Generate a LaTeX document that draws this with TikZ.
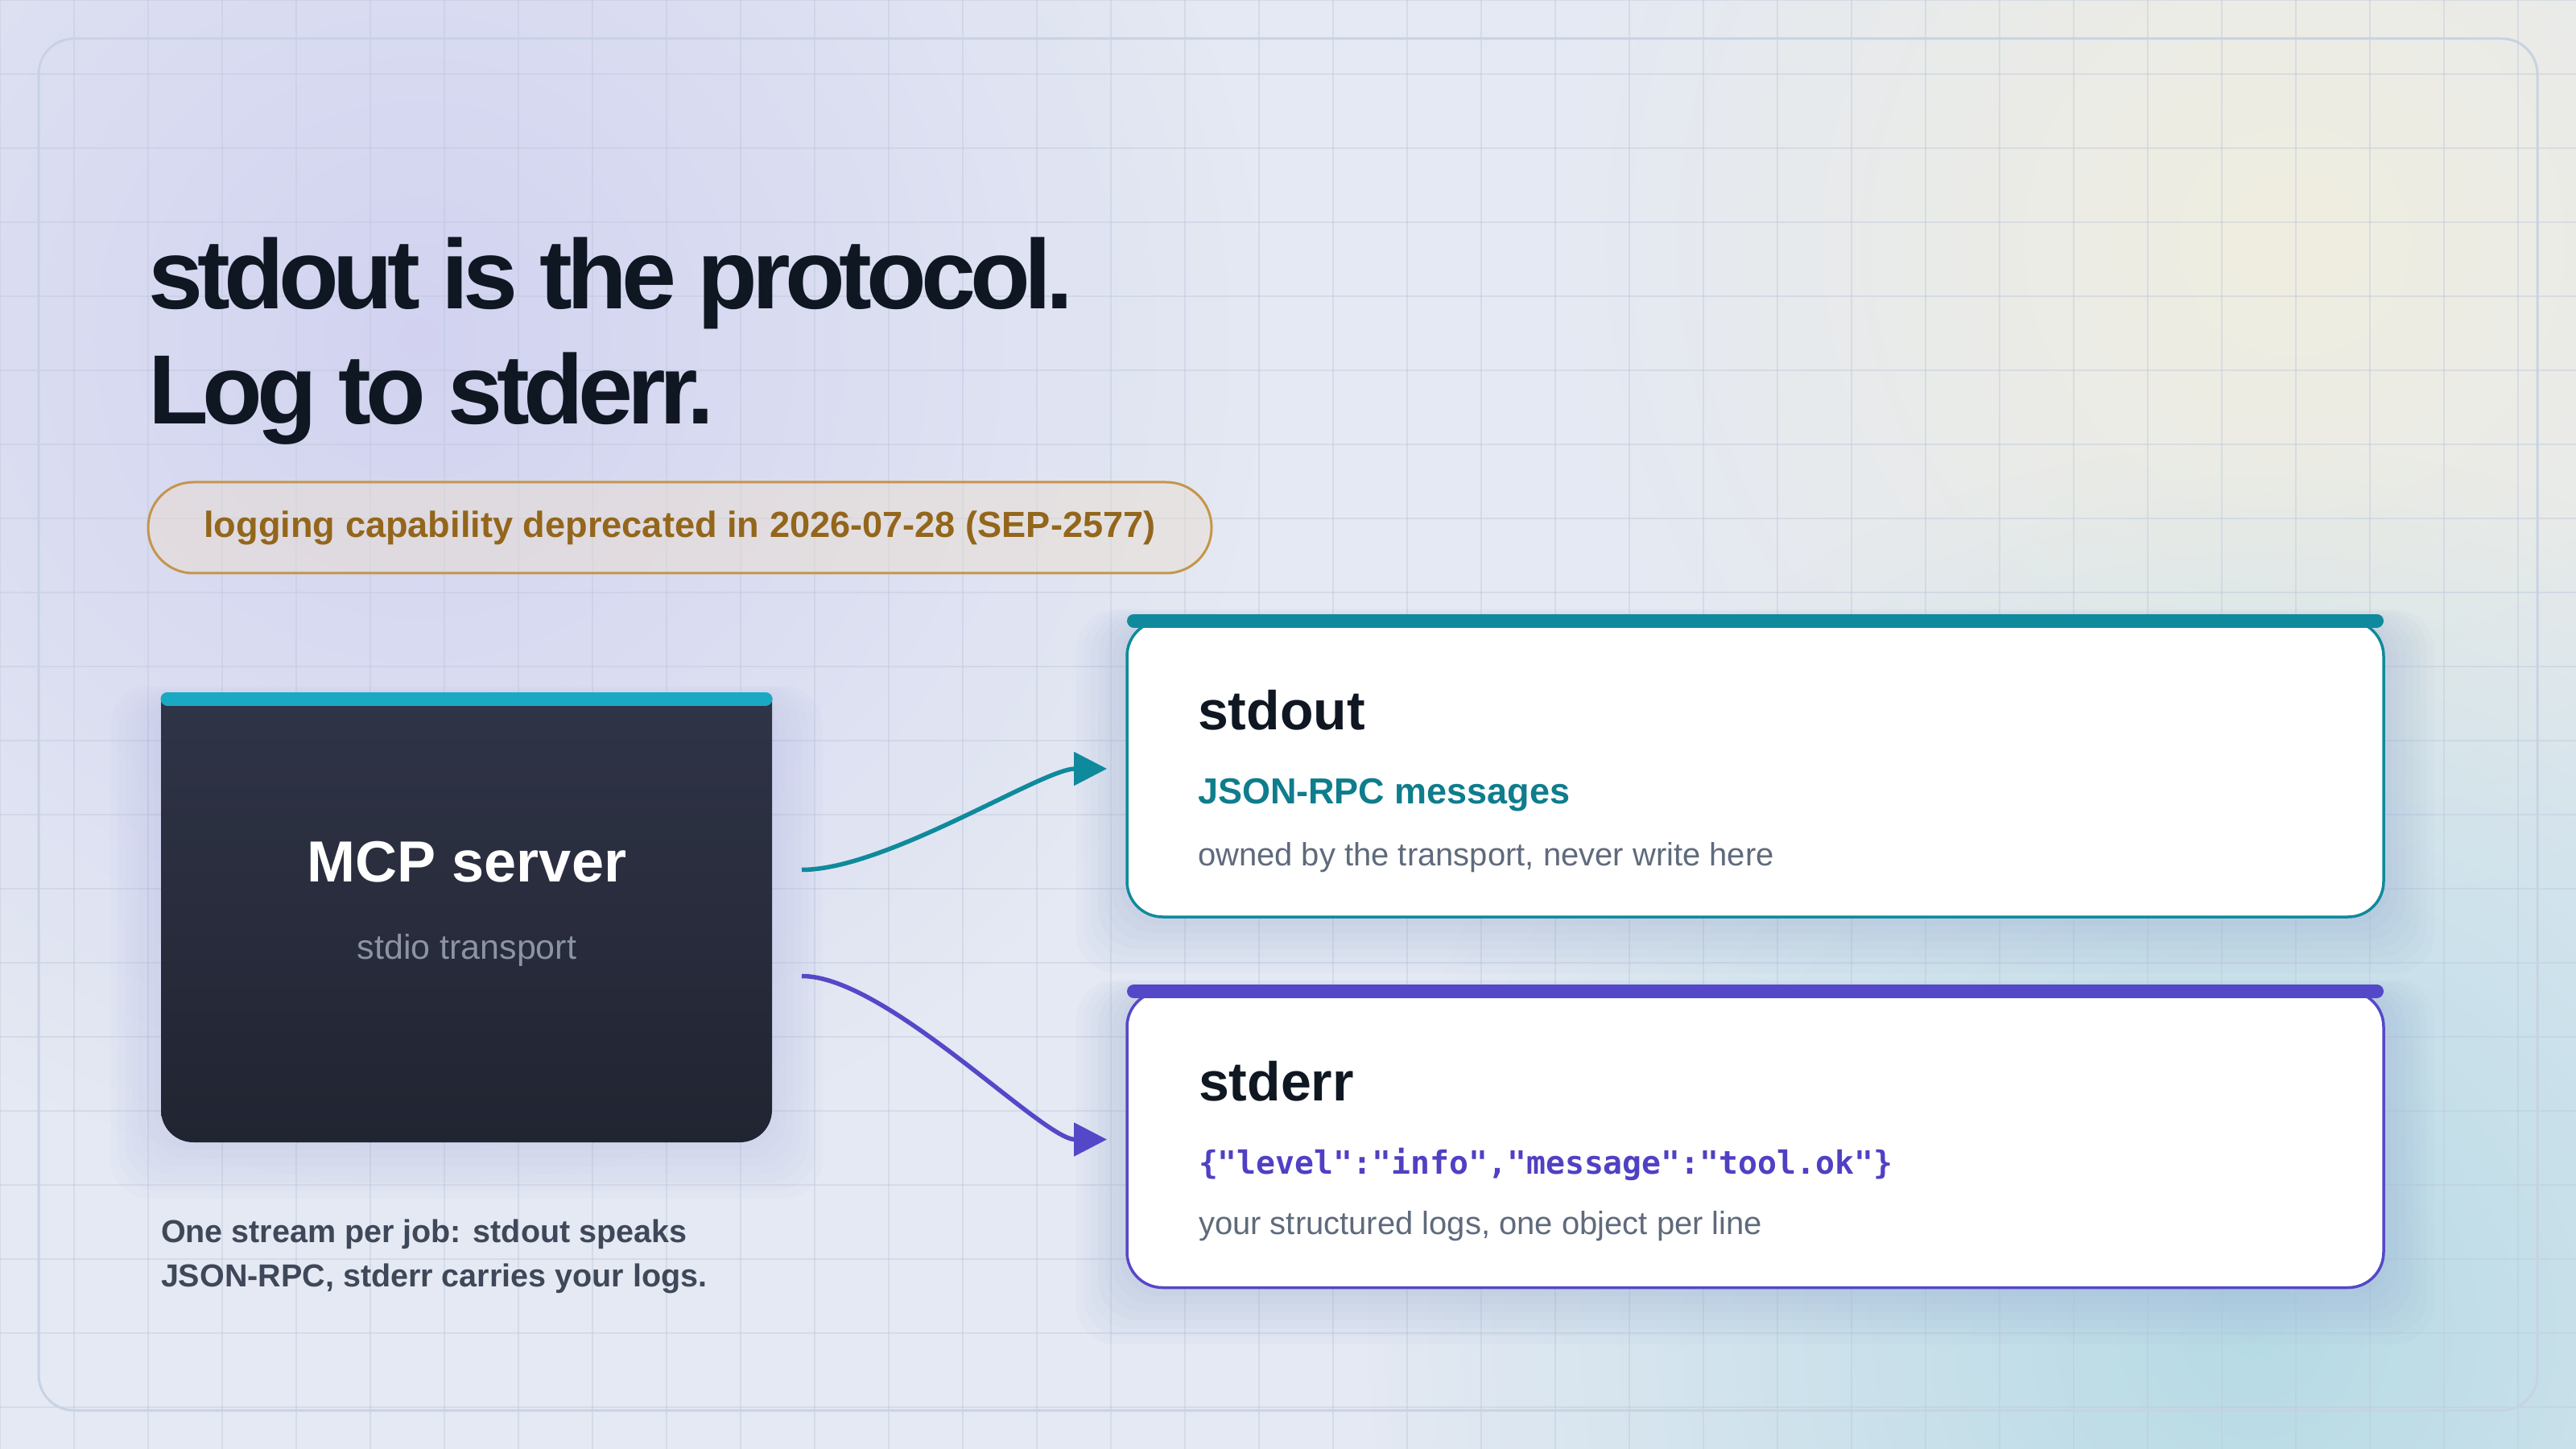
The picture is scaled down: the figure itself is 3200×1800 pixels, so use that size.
\documentclass[tikz,border=0pt]{standalone}
\usepackage{fontspec}
\setmainfont{Liberation Sans}
\newfontfamily\headfont[LetterSpace=-5.8]{Liberation Sans}
\newfontfamily\codefont{DejaVu Sans Mono}
\usetikzlibrary{arrows.meta,calc,fadings}

\definecolor{ink}{RGB}{15,23,34}
\definecolor{slate}{RGB}{95,106,124}
\definecolor{capgray}{RGB}{63,72,89}
\definecolor{tealc}{RGB}{15,138,156}
\definecolor{tealtxt}{RGB}{14,125,140}
\definecolor{purp}{RGB}{84,72,200}
\definecolor{purptxt}{RGB}{80,64,196}
\definecolor{cyanbar}{RGB}{26,169,194}
\definecolor{srvtop}{RGB}{47,52,71}
\definecolor{srvbot}{RGB}{33,36,49}
\definecolor{srvsub}{RGB}{139,147,165}
\definecolor{pillfill}{RGB}{236,222,205}
\definecolor{pilledge}{RGB}{196,150,76}
\definecolor{pilltxt}{RGB}{147,102,27}
\definecolor{bgbase}{RGB}{228,233,243}
\definecolor{lavglow}{RGB}{208,208,240}
\definecolor{sandglow}{RGB}{240,238,222}
\definecolor{tealglow}{RGB}{180,218,228}
\definecolor{gridc}{RGB}{190,200,220}
\definecolor{framec}{RGB}{200,210,226}
\definecolor{srvshadow}{RGB}{170,175,225}
\definecolor{cardshadow}{RGB}{140,160,205}

\tikzfading[name=glowfade,inner color=transparent!0,outer color=transparent!100]

\newcommand{\softglow}[5]{%
  \foreach \s in {1,...,7}
    \fill[#1,fill opacity=0.045,rounded corners=5mm] ({#2-\s*9},{#3-\s*2}) rectangle ({#4+\s*9},{#5+\s*10});}

\begin{document}
\begin{tikzpicture}[x=0.1mm,y=-0.1mm,
  every node/.style={inner sep=0pt,outer sep=0pt,text=ink},
  gridline/.style={draw=gridc,draw opacity=0.42,line width=0.15mm},
  card/.style={draw,fill=white,line width=0.35mm,rounded corners=4.4mm,minimum width=156.1mm,minimum height=36.8mm},
  topbar/.style={line width=1.7mm,line cap=round},
  flow/.style={line width=0.55mm,shorten >=2.5mm,-{Triangle[length=4.1mm,width=4.1mm]}},
  cardhead/.style={anchor=base west,font=\fontsize{19.35}{23}\selectfont\bfseries},
  cardsub/.style={anchor=base west,font=\fontsize{11.38}{14}\selectfont,text=slate},
  notetext/.style={anchor=base west,font=\fontsize{11.24}{14}\selectfont\bfseries,text=capgray}]
  \useasboundingbox (0,0) rectangle (3200,1800);
  \fill[bgbase] (0,0) rectangle (3200,1800);
  \begin{scope}
    \clip (0,0) rectangle (3200,1800);
    \fill[lavglow,path fading=glowfade,fill opacity=0.9] (520,420) circle (1050);
    \fill[sandglow,path fading=glowfade,fill opacity=0.95] (2850,300) circle (900);
    \fill[tealglow,path fading=glowfade,fill opacity=0.95] (2800,1650) circle (1100);
  \end{scope}
  \foreach \g in {0,92,...,3220} \draw[gridline] (\g,0) -- (\g,1800);
  \foreach \g in {0,92,...,1800} \draw[gridline] (0,\g) -- (3200,\g);
  \draw[framec,line width=0.3mm,rounded corners=4.4mm] (48,48) rectangle (3152,1752);

  \node[anchor=base west,font=\headfont\bfseries\fontsize{34.8}{40}\selectfont] (title1) at (184,384) {stdout is the protocol.};
  \node[anchor=base west,font=\headfont\bfseries\fontsize{34.8}{40}\selectfont] (title2) at (184,527) {Log to stderr.};
  \node[draw=pilledge,fill=pillfill,fill opacity=0.45,text opacity=1,line width=0.3mm,rounded corners=5.6mm,
        minimum width=132.1mm,minimum height=11.3mm,font=\fontsize{12.85}{15}\selectfont\bfseries,text=pilltxt]
        (pill) at (844.5,655.5) {logging capability deprecated in 2026-07-28 (SEP-2577)};

  \softglow{srvshadow}{200}{866}{959}{1419}
  \node[minimum width=75.9mm,minimum height=55.3mm] (server) at (579.5,1142.5) {};
  \shade[top color=srvtop,bottom color=srvbot] (server.north west) -- (server.north east)
    -- ($(server.south east)+(0,-40)$) arc[start angle=0,end angle=90,radius=40]
    -- ($(server.south west)+(40,0)$) arc[start angle=90,end angle=180,radius=40] -- cycle;
  \draw[cyanbar,topbar] ($(server.north west)+(8,2)$) -- ($(server.north east)+(-8,2)$);
  \node[anchor=base,font=\fontsize{20.5}{24}\selectfont\bfseries,text=white] (srvname) at (580,1095) {MCP server};
  \node[anchor=base,font=\fontsize{12.23}{15}\selectfont,text=srvsub] (srvkind) at (580,1191) {stdio transport};

  \softglow{cardshadow}{1400}{771}{2961}{1139}
  \softglow{cardshadow}{1400}{1231}{2961}{1600}
  \node[card,draw=tealc] (outcard) at (2180.5,955) {};
  \draw[tealc,topbar] ($(outcard.north west)+(8.5,0)$) -- ($(outcard.north east)+(-8.5,0)$);
  \node[card,draw=purp] (errcard) at (2180.5,1415.5) {};
  \draw[purp,topbar] ($(errcard.north west)+(8.5,0)$) -- ($(errcard.north east)+(-8.5,0)$);

  \node[cardhead] (outhead) at (1488,907) {stdout};
  \node[anchor=base west,font=\fontsize{12.8}{15}\selectfont\bfseries,text=tealtxt] (outkind) at (1488,998) {JSON-RPC messages};
  \node[cardsub] (outnote) at (1488,1075) {owned by the transport, never write here};
  \node[cardhead] (errhead) at (1489,1367) {stderr};
  \node[anchor=base west,font=\codefont\bfseries\fontsize{11.32}{14}\selectfont,text=purptxt] (errkind) at (1489,1458) {\{"level":"info","message":"tool.ok"\}};
  \node[cardsub] (errnote) at (1489,1533) {your structured logs, one object per line};

  \coordinate (outsrc) at ($(server.east)+(37,-62)$);
  \coordinate (errsrc) at ($(server.east)+(37,70)$);
  \draw[flow,tealc] (outsrc) .. controls +(105,0) and +(-105,0) .. (outcard.west);
  \draw[flow,purp] (errsrc) .. controls +(105,0) and +(-105,0) .. (errcard.west);

  \node[notetext] (note1) at (200,1543) {One stream per job: stdout speaks};
  \node[notetext] (note2) at (200,1598) {JSON-RPC, stderr carries your logs.};
\end{tikzpicture}
\end{document}
